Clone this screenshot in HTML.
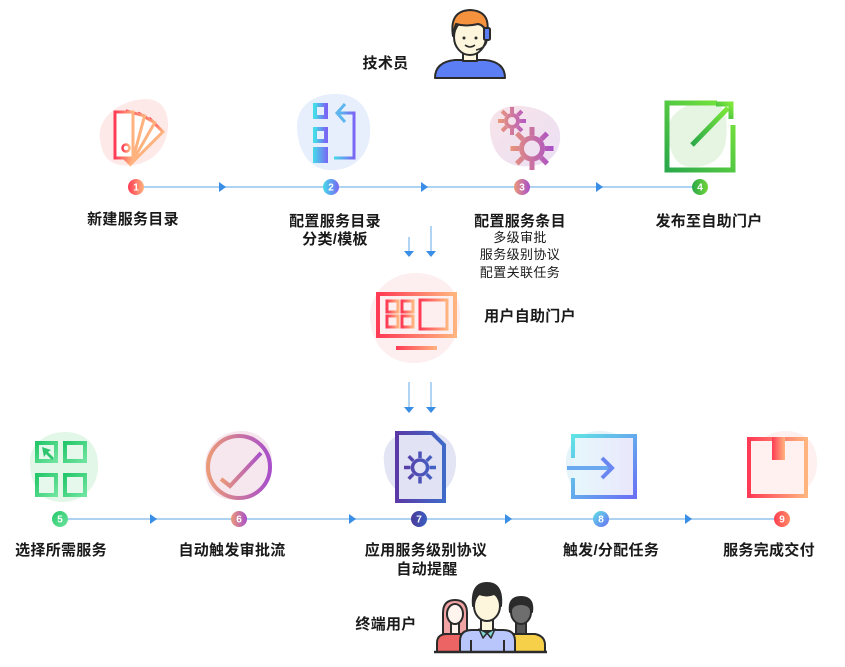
<!DOCTYPE html>
<html><head><meta charset="utf-8">
<style>
html,body{margin:0;padding:0;background:#fff;}
svg{display:block;}
text{font-family:"Liberation Sans","Noto Sans CJK SC",sans-serif;fill:#1a1a1a;}
.l{font-size:15px;font-weight:bold;text-anchor:middle;letter-spacing:0.3px;}
.s{font-size:13px;text-anchor:middle;letter-spacing:0.4px;}
.n{font-size:10px;font-weight:bold;fill:#fff;text-anchor:middle;font-family:"Liberation Sans",sans-serif;}
</style></head><body>
<svg width="845" height="667" viewBox="0 0 845 667" xmlns="http://www.w3.org/2000/svg">
<defs>
<linearGradient id="ro" x1="0" y1="0" x2="1" y2="0"><stop offset="0" stop-color="#ff3b55"/><stop offset="1" stop-color="#ffb47f"/></linearGradient>
<linearGradient id="cb" x1="0" y1="0" x2="1" y2="0"><stop offset="0" stop-color="#45dbe8"/><stop offset="1" stop-color="#7a66f4"/></linearGradient>
<linearGradient id="op" x1="0" y1="0" x2="1" y2="0"><stop offset="0" stop-color="#eb9a78"/><stop offset="1" stop-color="#a84fca"/></linearGradient>
<linearGradient id="gr" x1="0" y1="1" x2="1" y2="0"><stop offset="0" stop-color="#2aa84a"/><stop offset="1" stop-color="#7de83a"/></linearGradient>
<linearGradient id="gn" x1="0" y1="0" x2="1" y2="1"><stop offset="0" stop-color="#25c76a"/><stop offset="1" stop-color="#6ee49e"/></linearGradient>
<linearGradient id="pb" x1="0" y1="0" x2="1" y2="0"><stop offset="0" stop-color="#5b3aa8"/><stop offset="1" stop-color="#3f6ac8"/></linearGradient>
<linearGradient id="cy" x1="0" y1="0" x2="1" y2="1"><stop offset="0" stop-color="#5fe3e4"/><stop offset="1" stop-color="#6a6ff5"/></linearGradient>
<linearGradient id="cyf" x1="0" y1="0" x2="1" y2="0"><stop offset="0" stop-color="#e6f7fb"/><stop offset="1" stop-color="#e9e7fb"/></linearGradient>
<linearGradient id="blob3" x1="0" y1="0" x2="1" y2="1"><stop offset="0" stop-color="#f8e3e8"/><stop offset="1" stop-color="#ebe0f5"/></linearGradient>
<linearGradient id="gA" gradientUnits="userSpaceOnUse" x1="-14" y1="0" x2="14" y2="0"><stop offset="0" stop-color="#eb9a78"/><stop offset="1" stop-color="#b458c4"/></linearGradient>
<linearGradient id="gB" gradientUnits="userSpaceOnUse" x1="-22" y1="0" x2="22" y2="0"><stop offset="0" stop-color="#e99578"/><stop offset="1" stop-color="#a84fca"/></linearGradient>
<linearGradient id="gC" gradientUnits="userSpaceOnUse" x1="-16" y1="0" x2="16" y2="0"><stop offset="0" stop-color="#5a3ca8"/><stop offset="1" stop-color="#4066c6"/></linearGradient>
<linearGradient id="c4" x1="0" y1="0" x2="1" y2="0"><stop offset="0" stop-color="#2aa84a"/><stop offset="1" stop-color="#72d43a"/></linearGradient>
<linearGradient id="c7" x1="0" y1="0" x2="1" y2="0"><stop offset="0" stop-color="#4b3a9a"/><stop offset="1" stop-color="#3a5fc0"/></linearGradient>
<linearGradient id="c9" x1="0" y1="0" x2="1" y2="0"><stop offset="0" stop-color="#ff4050"/><stop offset="1" stop-color="#ff8a66"/></linearGradient>
</defs>

<!-- Technician -->
<text class="l" x="385.5" y="68">技术员</text>
<g stroke="#2b2b2b" stroke-width="2" stroke-linejoin="round">
  <path d="M435,78 Q435,62 455,60 L485,60 Q505,62 505,78 Z" fill="#5b7ef5"/>
  <rect x="463" y="50" width="14" height="11" fill="#fdf6dc"/>
  <ellipse cx="470" cy="37" rx="16" ry="18" fill="#fdf6dc"/>
  <path d="M453,36 Q449,11 470,10 Q491,11 487,33 Q484,25 478,24 Q466,27 456,24 Q454,29 453,36 Z" fill="#f5923e"/>
  <rect x="484" y="28" width="6" height="12" rx="1.5" fill="#5b7ef5"/>
  <path d="M487,40 Q486,48 476,50" fill="none" stroke-width="1.5"/>
</g>
<circle cx="464" cy="38" r="1.5" fill="#2b2b2b"/>
<circle cx="476" cy="38" r="1.5" fill="#2b2b2b"/>
<path d="M465,45 Q470,49 475,45" fill="none" stroke="#2b2b2b" stroke-width="1.5"/>

<!-- Blobs row 1 -->
<path d="M100,140 C96,118 120,100 145,99 C165,98 172,118 166,138 C160,158 140,168 120,165 C105,162 102,152 100,140 Z" fill="#fdeae8"/>
<path d="M297,128 C296,105 315,93 338,94 C360,95 372,112 370,135 C368,158 350,172 328,170 C308,168 298,150 297,128 Z" fill="#e7effd"/>
<path d="M490,130 C488,112 505,104 522,106 C545,108 562,120 560,140 C558,160 540,168 520,166 C500,164 491,148 490,130 Z" fill="url(#blob3)"/>
<path d="M668,130 C668,112 690,100 712,102 C726,104 728,120 726,140 C724,158 710,168 690,167 C674,166 668,148 668,130 Z" fill="#e5f5e1"/>

<!-- Icon 1 fan cards -->
<g stroke="url(#ro)" stroke-width="3" fill="#fff">
  <rect x="115" y="112" width="18" height="46" transform="rotate(45 124 158)"/>
  <rect x="115" y="112" width="18" height="46" transform="rotate(30 124 158)"/>
  <rect x="115" y="112" width="18" height="46" transform="rotate(15 124 158)"/>
  <rect x="115" y="112" width="18" height="46"/>
  <circle cx="126" cy="148" r="3.5" stroke-width="2.5"/>
</g>

<!-- Icon 2 -->
<g>
  <rect x="315" y="105" width="11" height="12" fill="none" stroke="url(#cb)" stroke-width="4"/>
  <rect x="315" y="129" width="11" height="12" fill="none" stroke="url(#cb)" stroke-width="4"/>
  <rect x="313" y="147" width="15" height="16" fill="url(#cb)"/>
  <path d="M339,113 L354,113 L354,158 L334,158" fill="none" stroke="url(#cb)" stroke-width="3"/>
  <path d="M345,104 L337,113 L345,122" fill="none" stroke="#5fb6ee" stroke-width="3"/>
</g>

<!-- Icon 3 gears -->
<g transform="translate(512,121)" stroke="url(#gA)" fill="none">
  <circle r="6" stroke-width="4"/>
  <path stroke-width="4" d="M0,-8V-14M0,8V14M-8,0H-14M8,0H14M5.66,-5.66L9.9,-9.9M-5.66,-5.66L-9.9,-9.9M5.66,5.66L9.9,9.9M-5.66,5.66L-9.9,9.9"/>
</g>
<g transform="translate(532,148.5)" stroke="url(#gB)" fill="none">
  <circle r="10.5" stroke-width="5"/>
  <path stroke-width="5" d="M0,-13V-21.5M0,13V21.5M-13,0H-21.5M13,0H21.5M9.2,-9.2L15.2,-15.2M-9.2,-9.2L-15.2,-15.2M9.2,9.2L15.2,15.2M-9.2,9.2L-15.2,15.2"/>
</g>

<!-- Icon 4 -->
<g fill="none" stroke="url(#gr)" stroke-width="5">
  <path d="M717,103 L667,103 L667,170 L733,170 L733,125"/>
  <path d="M692,145 L728,108"/>
  <path d="M716,104 L731,104 L731,119"/>
</g>

<!-- Row 1 timeline -->
<line x1="136" y1="187" x2="700" y2="187" stroke="#aed3f2" stroke-width="2"/>
<g fill="#3a8ee6">
  <polygon points="219,182 226,187 219,192"/>
  <polygon points="421,182 428,187 421,192"/>
  <polygon points="596,182 603,187 596,192"/>
</g>
<circle cx="136" cy="187" r="8" fill="url(#ro)"/><text class="n" x="136" y="190.5">1</text>
<circle cx="331" cy="187" r="8" fill="url(#cb)"/><text class="n" x="331" y="190.5">2</text>
<circle cx="522" cy="187" r="8" fill="url(#op)"/><text class="n" x="522" y="190.5">3</text>
<circle cx="700" cy="187" r="8" fill="url(#c4)"/><text class="n" x="700" y="190.5">4</text>

<text class="l" x="133" y="224">新建服务目录</text>
<text class="l" x="335" y="226">配置服务目录</text>
<text class="l" x="335" y="244">分类/模板</text>
<text class="l" x="520" y="226">配置服务条目</text>
<text class="s" x="520" y="242">多级审批</text>
<text class="s" x="520" y="259">服务级别协议</text>
<text class="s" x="520" y="277">配置关联任务</text>
<text class="l" x="709" y="226">发布至自助门户</text>

<!-- Down arrows 1 -->
<g stroke="#94c6f0" stroke-width="1.5">
  <line x1="409" y1="237" x2="409" y2="252"/>
  <line x1="431" y1="226" x2="431" y2="252"/>
  <line x1="409" y1="382" x2="409" y2="408"/>
  <line x1="431" y1="382" x2="431" y2="408"/>
</g>
<g fill="#3a8ee6">
  <polygon points="404,251 414,251 409,257"/>
  <polygon points="426,251 436,251 431,257"/>
  <polygon points="404,407 414,407 409,413"/>
  <polygon points="426,407 436,407 431,413"/>
</g>

<!-- Portal icon -->
<path d="M370,320 C368,295 388,273 415,273 C442,273 462,290 460,318 C458,345 440,363 414,363 C388,363 372,345 370,320 Z" fill="#fdefef"/>
<g fill="none" stroke="url(#ro)">
  <rect x="378" y="294" width="77" height="42" stroke-width="4"/>
  <rect x="387" y="301" width="11" height="11" stroke-width="3"/>
  <rect x="402" y="301" width="11" height="11" stroke-width="3"/>
  <rect x="387" y="316" width="11" height="11" stroke-width="3"/>
  <rect x="402" y="316" width="11" height="11" stroke-width="3"/>
  <rect x="420" y="300" width="27" height="29" stroke-width="3"/>
</g>
<rect x="396" y="346" width="41" height="4" fill="url(#ro)"/>
<text class="l" x="530" y="321">用户自助门户</text>

<!-- Row 2 blobs -->
<path d="M30,465 C28,445 45,432 65,432 C88,432 100,448 98,470 C96,490 80,503 60,502 C40,501 31,485 30,465 Z" fill="#e3f7e9"/>
<path d="M205,470 C203,448 220,430 243,431 C262,432 274,446 272,466 C270,488 255,501 235,500 C215,499 206,490 205,470 Z" fill="#f6e7ef"/>
<path d="M384,462 C382,440 400,430 420,430 C442,430 458,442 456,465 C454,488 440,497 420,497 C398,497 385,484 384,462 Z" fill="#e3e4f4"/>
<path d="M566,465 C565,443 580,431 600,431 C622,431 637,445 636,466 C635,488 620,498 600,498 C578,498 567,486 566,465 Z" fill="#e6f3f9"/>
<path d="M754,462 C753,442 768,430 788,431 C808,432 818,446 817,465 C816,486 800,497 782,497 C765,497 755,482 754,462 Z" fill="#fdf0ef"/>

<!-- Icon 5 -->
<g fill="#e8f8ee" fill-opacity="0.6" stroke="url(#gn)" stroke-width="4">
  <rect x="37" y="443" width="19" height="18"/>
  <rect x="65" y="443" width="20" height="18"/>
  <rect x="37" y="475" width="19" height="20"/>
  <rect x="65" y="475" width="20" height="20"/>
</g>
<path d="M42,447 L51,450 L48,452 L54,458 L52,460 L46,454 L44,457 Z" fill="#2fc46e"/>

<!-- Icon 6 -->
<circle cx="239" cy="467" r="31" fill="none" stroke="url(#op)" stroke-width="4"/>
<path d="M221,479 L230,486 L261,453" fill="none" stroke="url(#op)" stroke-width="4"/>

<!-- Icon 7 -->
<path d="M397,433 L432,433 L444,445 L444,501 L397,501 Z" fill="#e1e3f4" stroke="url(#pb)" stroke-width="4" stroke-linejoin="miter"/>
<g transform="translate(420,467.5)" stroke="url(#gC)" fill="none">
  <circle r="7.5" stroke-width="3.5"/>
  <path stroke-width="3.5" d="M0,-9.5V-16M0,9.5V16M-9.5,0H-16M9.5,0H16M6.7,-6.7L11.3,-11.3M-6.7,-6.7L-11.3,-11.3M6.7,6.7L11.3,11.3M-6.7,6.7L-11.3,11.3"/>
</g>

<!-- Icon 8 -->
<rect x="573" y="436" width="62" height="61" fill="url(#cyf)"/>
<path d="M573,458 L573,436 L635,436 L635,497 L573,497 L573,478" fill="none" stroke="url(#cy)" stroke-width="4"/>
<line x1="567" y1="468" x2="611" y2="468" stroke="#6aa8f0" stroke-width="4"/>
<path d="M602,458 L612,468 L602,478" fill="none" stroke="#6a86f2" stroke-width="4"/>

<!-- Icon 9 -->
<rect x="749" y="439" width="57" height="57" fill="#fff1ef" stroke="url(#ro)" stroke-width="4"/>
<rect x="772" y="437" width="13" height="23" fill="url(#ro)"/>

<!-- Row 2 timeline -->
<line x1="60" y1="519" x2="782" y2="519" stroke="#aed3f2" stroke-width="2"/>
<g fill="#3a8ee6">
  <polygon points="150,514 157,519 150,524"/>
  <polygon points="349,514 356,519 349,524"/>
  <polygon points="505,514 512,519 505,524"/>
  <polygon points="685,514 692,519 685,524"/>
</g>
<circle cx="60" cy="519" r="8" fill="url(#gn)"/><text class="n" x="60" y="522.5">5</text>
<circle cx="239" cy="519" r="8" fill="url(#op)"/><text class="n" x="239" y="522.5">6</text>
<circle cx="419" cy="519" r="8" fill="url(#c7)"/><text class="n" x="419" y="522.5">7</text>
<circle cx="601" cy="519" r="8" fill="url(#cy)"/><text class="n" x="601" y="522.5">8</text>
<circle cx="782" cy="519" r="8" fill="url(#c9)"/><text class="n" x="782" y="522.5">9</text>

<text class="l" x="61" y="555">选择所需服务</text>
<text class="l" x="232" y="555">自动触发审批流</text>
<text class="l" x="426" y="555">应用服务级别协议</text>
<text class="l" x="427" y="574">自动提醒</text>
<text class="l" x="611" y="555">触发/分配任务</text>
<text class="l" x="769" y="555">服务完成交付</text>

<!-- End users -->
<text class="l" x="386" y="629">终端用户</text>
<g stroke="#2b2b2b" stroke-width="2" stroke-linejoin="round">
  <!-- woman -->
  <path d="M443,634 L443,613 Q443,600 455,600 Q467,600 467,613 L467,634 Z" fill="#f2a3a3"/>
  <path d="M437,652 L437,643 Q437,634 447,634 L464,634 L464,652 Z" fill="#ec6464"/>
  <rect x="451" y="622" width="8" height="12" fill="#fff4ee"/>
  <ellipse cx="455" cy="614" rx="8" ry="10" fill="#fff4ee"/>
  <!-- right man -->
  <path d="M510,652 L510,634 L535,634 Q545,636 545,645 L545,652 Z" fill="#f7d04a"/>
  <rect x="516" y="622" width="10" height="12" fill="#555"/>
  <ellipse cx="521" cy="612" rx="10" ry="12" fill="#6e6e6e"/>
  <path d="M510,612 Q508,597 521,597 Q534,597 532,612 Q530,604 521,604 Q512,604 510,612 Z" fill="#2b2b2b"/>
  <!-- main man -->
  <path d="M460,652 L460,641 Q460,630 472,630 L503,630 Q515,630 515,641 L515,652 Z" fill="#b8c6fb"/>
  <rect x="481" y="619" width="12" height="12" fill="#fdf6dc"/>
  <path d="M479,629 L487,633 L483,638 Z M495,629 L487,633 L491,638 Z" fill="#7fd6d6" stroke-width="1.5"/>
  <ellipse cx="487" cy="606" rx="13" ry="15" fill="#fdf6dc"/>
  <path d="M473,606 Q471,583 487,583 Q503,583 501,606 Q499,596 494,594 Q487,597 479,594 Q475,597 473,606 Z" fill="#2b2b2b"/>
  <line x1="471" y1="640" x2="471" y2="652"/>
  <line x1="504" y1="640" x2="504" y2="652"/>
</g>
<line x1="434" y1="652" x2="547" y2="652" stroke="#2b2b2b" stroke-width="2.5"/>
</svg>
</body></html>
